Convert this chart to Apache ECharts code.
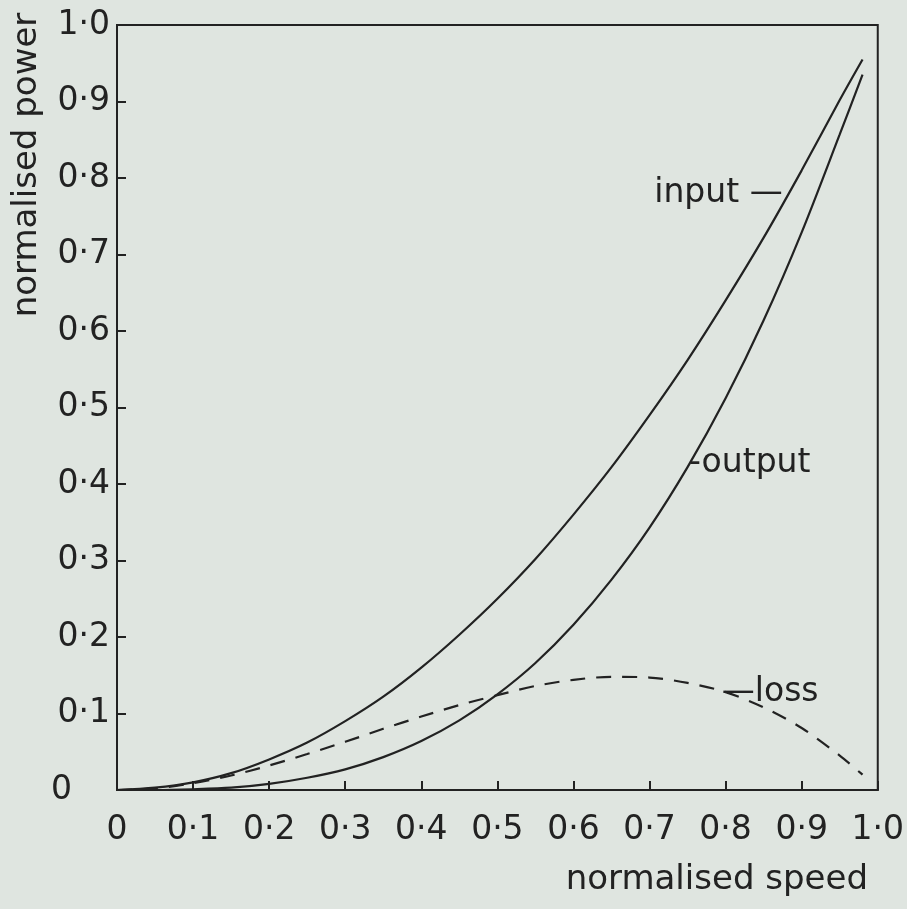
<!DOCTYPE html>
<html>
<head>
<meta charset="utf-8">
<script src="https://cdn.jsdelivr.net/npm/echarts@6/dist/echarts.min.js"></script>
<style>
  html, body { margin: 0; padding: 0; background: #dfe5e0; }
  #main { width: 907px; height: 909px; }
</style>
</head>
<body>
<div id="main"></div>
<script>
var chartDom = document.getElementById('main');
var myChart = echarts.init(chartDom);
var option;

// values
var speed = [0, 0.05, 0.1, 0.15, 0.2, 0.25, 0.3, 0.35, 0.4, 0.45, 0.5, 0.55, 0.6, 0.65, 0.7, 0.75, 0.8, 0.85, 0.9, 0.95, 0.98];
var inputPower = [0, 0.003, 0.01, 0.022, 0.04, 0.062, 0.09, 0.122, 0.16, 0.203, 0.25, 0.302, 0.36, 0.422, 0.49, 0.562, 0.64, 0.722, 0.81, 0.902, 0.955];
var outputPower = [0, 0, 0.001, 0.003, 0.008, 0.016, 0.027, 0.043, 0.064, 0.091, 0.125, 0.166, 0.216, 0.275, 0.343, 0.422, 0.512, 0.614, 0.729, 0.857, 0.935];
var lossPower = [0, 0.002, 0.009, 0.019, 0.032, 0.047, 0.063, 0.08, 0.096, 0.111, 0.124, 0.136, 0.144, 0.148, 0.147, 0.14, 0.128, 0.108, 0.081, 0.045, 0.02];

// curve labels: [speed, power, text, align]
var notes = [
    [0.875, 0.78, 'input —', 'right'],
    [0.752, 0.427, '-output', 'left'],
    [0.795, 0.128, '—loss', 'left']
];

var ink = '#222';
var font = 'DejaVu Sans';

function pairs(ys) {
    return speed.map(function (x, i) { return [x, ys[i]]; });
}

function tickText(v) {
    return v.toFixed(1).replace('.', '·');
}

function curve(name, ys, dash) {
    return {
        name: name,
        type: 'line',
        smooth: 0.3,
        showSymbol: false,
        data: pairs(ys),
        lineStyle: { color: ink, width: 2.2, type: dash || 'solid' }
    };
}

option = {
    backgroundColor: '#dfe5e0',
    animation: false,
    grid: {
        left: 117, right: 25, top: 25, bottom: 119,
        show: true,
        borderColor: ink,
        borderWidth: 2,
        backgroundColor: 'transparent'
    },
    xAxis: {
        type: 'value',
        min: 0, max: 1, interval: 0.1,
        axisLine: { lineStyle: { color: ink, width: 2 } },
        axisTick: { inside: true, length: 9, lineStyle: { color: ink, width: 2 } },
        splitLine: { show: false },
        axisLabel: {
            margin: 24,
            color: ink,
            fontFamily: font,
            fontSize: 33,
            showMaxLabel: true,
            formatter: function (v) { return v === 0 ? '0' : tickText(v); }
        }
    },
    yAxis: {
        type: 'value',
        min: 0, max: 1, interval: 0.1,
        axisLine: { show: true, lineStyle: { color: ink, width: 2 } },
        axisTick: { show: true, inside: true, length: 9, lineStyle: { color: ink, width: 2 } },
        splitLine: { show: false },
        axisLabel: {
            margin: 7,
            color: ink,
            fontFamily: font,
            fontSize: 33,
            formatter: function (v) { return v === 0 ? '{z|0}' : tickText(v); },
            rich: {
                z: { fontFamily: font, fontSize: 33, color: ink, padding: [0, 38, 0, 0] }
            }
        }
    },
    graphic: [
        {
            type: 'text',
            x: 868, y: 880,
            style: {
                text: 'normalised speed',
                fill: ink,
                font: '34px "DejaVu Sans"',
                textAlign: 'right',
                textVerticalAlign: 'middle'
            }
        },
        {
            type: 'text',
            x: 27, y: 165,
            rotation: Math.PI / 2,
            style: {
                text: 'normalised power',
                fill: ink,
                font: '34px "DejaVu Sans"',
                textAlign: 'center',
                textVerticalAlign: 'middle'
            }
        }
    ],
    series: [
        curve('input', inputPower),
        curve('output', outputPower),
        curve('loss', lossPower, [15, 11]),
        {
            name: 'notes',
            type: 'scatter',
            symbolSize: 0,
            silent: true,
            itemStyle: { opacity: 1 },
            data: notes.map(function (n) {
                return {
                    value: [n[0], n[1]],
                    label: {
                        show: true,
                        position: 'inside',
                        formatter: n[2],
                        align: n[3],
                        verticalAlign: 'middle',
                        color: ink,
                        opacity: 1,
                        fontFamily: font,
                        fontSize: 33
                    }
                };
            })
        }
    ]
};

option && myChart.setOption(option);
</script>
</body>
</html>
